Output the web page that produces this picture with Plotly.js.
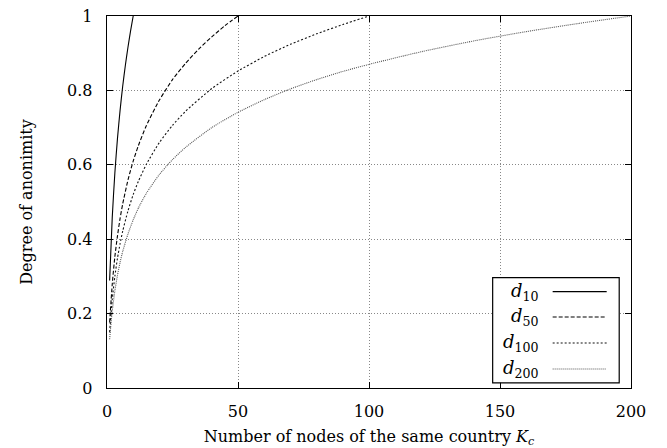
<!DOCTYPE html>
<html>
<head>
<meta charset="utf-8">
<script src="https://cdn.plot.ly/plotly-3.0.1.min.js"></script>
<style>html,body{margin:0;padding:0;background:#fff;}#chart{width:667px;height:448px;}</style>
</head>
<body>
<div id="chart"></div>
<script>
// Data
const seriesNames = ["d10", "d50", "d100", "d200"];
const legendLabels = ["<i>d</i><sub>10</sub>", "<i>d</i><sub>50</sub>", "<i>d</i><sub>100</sub>", "<i>d</i><sub>200</sub>"];

const k10 = [1, 2, 3, 4, 5, 6, 7, 8, 9, 10];
const d10 = [0.289, 0.458, 0.578, 0.671, 0.747, 0.812, 0.867, 0.916, 0.960, 1.0];

const k50 = [1, 2, 3, 4, 5, 6, 8, 10, 12, 15, 20, 25, 30, 35, 40, 45, 50];
const d50 = [0.176, 0.279, 0.353, 0.409, 0.456, 0.495, 0.559, 0.610, 0.652, 0.705, 0.774, 0.829, 0.873, 0.911, 0.944, 0.974, 1.0];

const k100 = [1, 2, 3, 4, 5, 6, 8, 10, 12, 15, 20, 25, 30, 40, 50, 60, 70, 80, 90, 100];
const d100 = [0.150, 0.238, 0.300, 0.349, 0.388, 0.422, 0.476, 0.520, 0.556, 0.601, 0.660, 0.706, 0.744, 0.805, 0.852, 0.891, 0.924, 0.952, 0.977, 1.0];

const k200 = [1, 2, 3, 4, 5, 6, 8, 10, 12, 15, 20, 25, 30, 40, 50, 60, 70, 80, 90, 100, 120, 140, 160, 180, 200];
const d200 = [0.131, 0.207, 0.261, 0.303, 0.338, 0.367, 0.414, 0.452, 0.484, 0.523, 0.574, 0.614, 0.647, 0.700, 0.741, 0.775, 0.804, 0.829, 0.851, 0.870, 0.904, 0.933, 0.958, 0.980, 1.0];

const xTicks = [0, 50, 100, 150, 200];
const yTicks = [0, 0.2, 0.4, 0.6, 0.8, 1];

const FONT = "DejaVu Serif";

const xs = [k10, k50, k100, k200];
const ys = [d10, d50, d100, d200];
const styles = [
  {color: "#000", width: 1.1, dash: "solid"},
  {color: "#000", width: 1.1, dash: "4px,2px"},
  {color: "#111", width: 1.1, dash: "2px,2px"},
  {color: "#555", width: 1.1, dash: "1px,1px"}
];

const traces = seriesNames.map((n, i) => ({
  type: "scatter", mode: "lines", name: n,
  x: xs[i], y: ys[i],
  line: Object.assign({shape: "spline", smoothing: 0.6}, styles[i]),
  showlegend: false, hoverinfo: "skip"
}));

// Custom legend (label on the left, sample line on the right, boxed)
const rowY = [0.259, 0.191, 0.121, 0.051];
const shapes = [{
  type: "rect", xref: "paper", yref: "paper",
  x0: 0.736, x1: 0.9775, y0: 0.014, y1: 0.2965,
  line: {color: "#000", width: 1.2}, fillcolor: "#fff", layer: "above"
}];
const annotations = [];
seriesNames.forEach((n, i) => {
  shapes.push({
    type: "line", xref: "paper", yref: "paper",
    x0: 0.8505, x1: 0.9536, y0: rowY[i], y1: rowY[i],
    line: styles[i], layer: "above"
  });
  annotations.push({
    xref: "paper", yref: "paper", x: 0.828, y: rowY[i],
    xanchor: "right", yanchor: "middle", showarrow: false,
    text: legendLabels[i], font: {family: FONT, size: 18, color: "#000"}
  });
});

const axisCommon = {
  showline: true, mirror: "allticks", linecolor: "#000", linewidth: 1.3,
  ticks: "inside", ticklen: 6, tickcolor: "#000", tickwidth: 1,
  showgrid: true, gridcolor: "#888", gridwidth: 1, griddash: "1px,2px",
  zeroline: false, automargin: false,
  tickfont: {family: FONT, size: 16, color: "#000"}
};

const layout = {
  width: 667, height: 448,
  margin: {l: 107, r: 36, t: 16, b: 60},
  paper_bgcolor: "#fff", plot_bgcolor: "#fff",
  font: {family: FONT, size: 16, color: "#000"},
  xaxis: Object.assign({}, axisCommon, {
    range: [0, 200], tickvals: xTicks, ticktext: xTicks.map(String),
    ticklabelstandoff: 8,
    title: {text: "Number of nodes of the same country <i>K<sub>c</sub></i>", standoff: 12,
            font: {family: FONT, size: 16, color: "#000"}}
  }),
  yaxis: Object.assign({}, axisCommon, {
    range: [0, 1], tickvals: yTicks, ticktext: yTicks.map(String),
    ticklabelstandoff: 10,
    title: {text: "Degree of anonimity", standoff: 30,
            font: {family: FONT, size: 16, color: "#000"}}
  }),
  shapes: shapes,
  annotations: annotations,
  showlegend: false
};

Plotly.newPlot("chart", traces, layout, {displayModeBar: false, staticPlot: true});
</script>
</body>
</html>
